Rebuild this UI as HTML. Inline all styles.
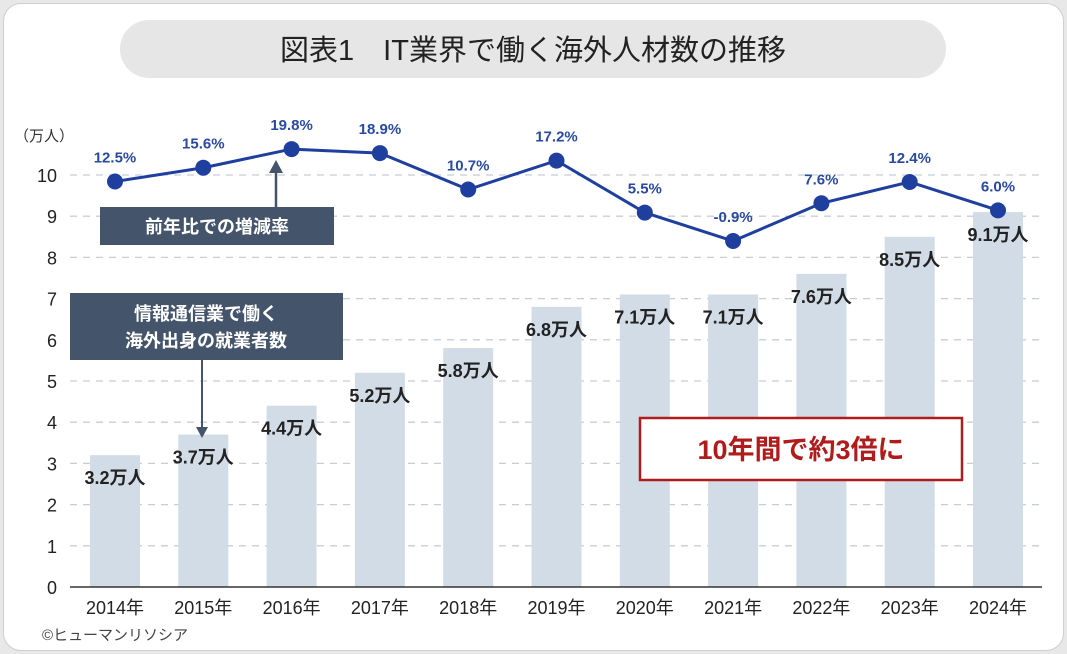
<!DOCTYPE html>
<html><head><meta charset="utf-8"><style>
body{margin:0;width:1067px;height:654px;background:#e8e8e8;font-family:"Liberation Sans","Noto Sans CJK JP",sans-serif;overflow:hidden}
#card{position:absolute;left:3px;top:3px;width:1059px;height:646px;background:#fff;border:1px solid #cfcfcf;border-radius:18px}
</style></head><body>
<div id="card"></div>
<svg id="c" width="1067" height="654" style="position:absolute;left:0;top:0" font-family="Liberation Sans, Noto Sans CJK JP, sans-serif">
<rect x="120" y="20" width="826" height="58" rx="29" fill="#e6e6e6"/>
<text x="533" y="60" text-anchor="middle" font-size="29" fill="#222">図表1　IT業界で働く海外人材数の推移</text>
<text x="44" y="141" text-anchor="middle" font-size="15" fill="#333">（万人）</text>
<g id="grid"></g><g id="bars"></g><g id="line"></g>
<line x1="70" y1="587" x2="1042" y2="587" stroke="#333" stroke-width="1.5"/>
<line x1="276" y1="210" x2="276" y2="170" stroke="#44546a" stroke-width="2.5"/>
<polygon points="276,160 269,173 283,173" fill="#44546a"/>
<rect x="100" y="207" width="234" height="38" fill="#44546a"/>
<text x="217" y="233" text-anchor="middle" font-size="18" font-weight="bold" fill="#fff">前年比での増減率</text>
<rect x="70" y="293" width="273" height="67" fill="#44546a"/>
<text x="206" y="320" text-anchor="middle" font-size="18" font-weight="bold" fill="#fff">情報通信業で働く</text>
<text x="206" y="347" text-anchor="middle" font-size="18" font-weight="bold" fill="#fff">海外出身の就業者数</text>
<line x1="202" y1="360" x2="202" y2="428" stroke="#44546a" stroke-width="2"/>
<polygon points="202,438 196,427 208,427" fill="#44546a"/>
<rect x="640" y="418" width="322" height="62" fill="#fff" stroke="#b01c1c" stroke-width="2.5"/>
<text x="801" y="459" text-anchor="middle" font-size="27" font-weight="bold" fill="#b01c1c">10年間で約3倍に</text>
<text x="42" y="640" font-size="15" fill="#444">©ヒューマンリソシア</text>
</svg>
<script>
const years=["2014年","2015年","2016年","2017年","2018年","2019年","2020年","2021年","2022年","2023年","2024年"];
const workers=[3.2,3.7,4.4,5.2,5.8,6.8,7.1,7.1,7.6,8.5,9.1];
const workerLabels=["3.2万人","3.7万人","4.4万人","5.2万人","5.8万人","6.8万人","7.1万人","7.1万人","7.6万人","8.5万人","9.1万人"];
const rates=[12.5,15.6,19.8,18.9,10.7,17.2,5.5,-0.9,7.6,12.4,6.0];
const rateLabels=["12.5%","15.6%","19.8%","18.9%","10.7%","17.2%","5.5%","-0.9%","7.6%","12.4%","6.0%"];
const yTicks=[0,1,2,3,4,5,6,7,8,9,10];
const NS="http://www.w3.org/2000/svg";
const xc=i=>115+i*88.3;
const yv=v=>587-v*41.2;
const yr=v=>237-v*4.44;
function mk(t,a,p){const e=document.createElementNS(NS,t);for(const k in a)e.setAttribute(k,a[k]);p.appendChild(e);return e;}
const g=document.getElementById('grid'),b=document.getElementById('bars'),l=document.getElementById('line');
yTicks.forEach(v=>{
 if(v>0){const ln=mk('line',{x1:70,x2:1042,y1:yv(v),y2:yv(v),stroke:'#c8ced6','stroke-dasharray':'7 6','stroke-width':1.3},g);
 
 }
 const t=mk('text',{x:57,y:yv(v)+7,'text-anchor':'end','font-size':18,fill:'#222'},g);t.textContent=v;
 
 
});
years.forEach((y,i)=>{
 const r=mk('rect',{x:xc(i)-25,y:yv(workers[i]),width:50,height:workers[i]*41.2,fill:'#d2dce7'},b);
 
 
 const t=mk('text',{x:xc(i),y:yv(workers[i])+29,'text-anchor':'middle','font-size':18,'font-weight':'bold',fill:'#222'},b);t.textContent=workerLabels[i];
 
 
 const x=mk('text',{x:xc(i),y:614,'text-anchor':'middle','font-size':18,fill:'#222'},b);x.textContent=y;
 
 
});
const pl=mk('polyline',{points:rates.map((v,i)=>xc(i)+','+yr(v)).join(' '),fill:'none',stroke:'#1f3f9f','stroke-width':3},l);


rates.forEach((v,i)=>{
 const c=mk('circle',{cx:xc(i),cy:yr(v),r:8,fill:'#1f3f9f'},l);
 
 
 const t=mk('text',{x:xc(i),y:yr(v)-19,'text-anchor':'middle','font-size':15,'font-weight':'bold',fill:'#2a4aa0'},l);t.textContent=rateLabels[i];
 
 
});
</script>
</body></html>
